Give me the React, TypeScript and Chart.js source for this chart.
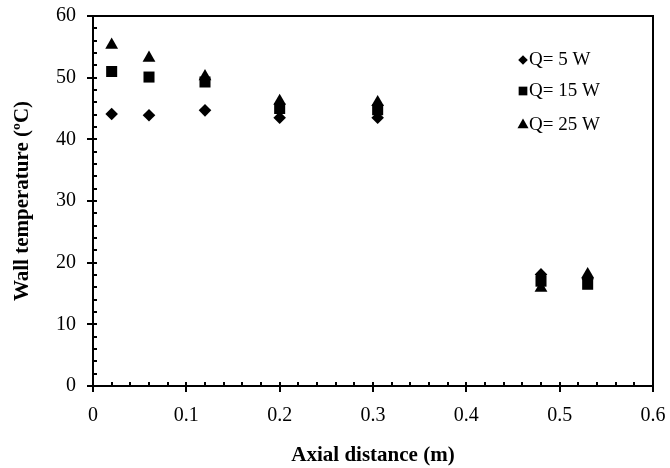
import { useEffect, useRef } from 'react';
import { Chart, registerables } from 'chart.js';

Chart.register(...registerables);

const axialDistance = [0.02, 0.06, 0.12, 0.2, 0.305, 0.48, 0.53];
const q5Values = [44.1, 43.9, 44.7, 43.5, 43.5, 18.1, 17.4];
const q15Values = [51.0, 50.1, 49.3, 45.0, 44.8, 17.0, 16.5];
const q25Values = [55.3, 53.2, 50.2, 46.2, 46.0, 15.9, 18.1];
const seriesLabels = ['Q= 5 W', 'Q= 15 W', 'Q= 25 W'];
const yMajorStep = 10;
const yMinorStep = 2;
const xMajorStep = 0.1;
const xMinorStep = 0.02;

const FONT = '"Liberation Serif", "Times New Roman", serif';

function pathMarker(ctx: CanvasRenderingContext2D, style: string, x: number, y: number, s: number) {
  ctx.beginPath();
  if (style === 'rectRot') {
    ctx.moveTo(x - s, y);
    ctx.lineTo(x, y - s);
    ctx.lineTo(x + s, y);
    ctx.lineTo(x, y + s);
  } else if (style === 'rect') {
    ctx.rect(x - s * 0.75, y - s * 0.75, s * 1.5, s * 1.5);
  } else {
    ctx.moveTo(x, y - s);
    ctx.lineTo(x + s * 0.866, y + s * 0.5);
    ctx.lineTo(x - s * 0.866, y + s * 0.5);
  }
  ctx.closePath();
  ctx.fill();
}

const axesPlugin = {
  id: 'excelAxes',
  afterDraw(chart: any) {
    const { ctx, chartArea } = chart;
    const xs = chart.scales.x;
    const ys = chart.scales.y;
    const { left, right, top, bottom } = chartArea;
    ctx.save();
    ctx.strokeStyle = '#000';
    ctx.lineWidth = 2;
    ctx.strokeRect(left, top, right - left, bottom - top);
    ctx.beginPath();
    const ny = Math.round((ys.max - ys.min) / yMinorStep);
    for (let i = 0; i <= ny; i++) {
      const v = ys.min + i * yMinorStep;
      const py = Math.round(ys.getPixelForValue(v));
      const isMajor = Math.abs(v / yMajorStep - Math.round(v / yMajorStep)) < 1e-6;
      ctx.moveTo(isMajor ? left - 6 : left, py);
      ctx.lineTo(left + 4, py);
    }
    const nx = Math.round((xs.max - xs.min) / xMinorStep);
    for (let i = 0; i <= nx; i++) {
      const v = xs.min + i * xMinorStep;
      const px = Math.round(xs.getPixelForValue(v));
      const isMajor = Math.abs(v / xMajorStep - Math.round(v / xMajorStep)) < 1e-6;
      ctx.moveTo(px, bottom - 4);
      ctx.lineTo(px, isMajor ? bottom + 6 : bottom);
    }
    ctx.stroke();

    // legend
    const styles = ['rectRot', 'rect', 'triangle'];
    const sizes = [4.8, 5.8, 6.4];
    const offsets = [44, 75, 109];
    ctx.fillStyle = '#000';
    ctx.font = `19px ${FONT}`;
    ctx.textBaseline = 'middle';
    ctx.textAlign = 'left';
    chart.data.datasets.forEach((ds: any, i: number) => {
      const ly = top + offsets[i];
      const mx = right - 130;
      pathMarker(ctx, styles[i], mx, ly, sizes[i]);
      ctx.fillText(ds.label, mx + 6, ly);
    });
    ctx.restore();
  },
};

export default function App() {
  const ref = useRef<HTMLCanvasElement>(null);
  useEffect(() => {
    if (!ref.current) return;
    const mk = (data: number[]) => axialDistance.map((x, i) => ({ x, y: data[i] }));
    const chart = new Chart(ref.current, {
      type: 'scatter',
      data: {
        datasets: [
          { label: seriesLabels[0], data: mk(q5Values), pointStyle: 'rectRot', pointRadius: 6.3, backgroundColor: '#000', borderColor: '#000', borderWidth: 0 },
          { label: seriesLabels[1], data: mk(q15Values), pointStyle: 'rect', pointRadius: 7.8, backgroundColor: '#000', borderColor: '#000', borderWidth: 0 },
          { label: seriesLabels[2], data: mk(q25Values), pointStyle: 'triangle', pointRadius: 7.4, backgroundColor: '#000', borderColor: '#000', borderWidth: 0 },
        ],
      },
      options: {
        animation: false,
        responsive: false,
        maintainAspectRatio: false,
        layout: { padding: { top: 16, right: 17, left: 0, bottom: 0 } },
        plugins: { legend: { display: false }, tooltip: { enabled: false } },
        scales: {
          x: {
            type: 'linear',
            min: 0,
            max: 0.6,
            ticks: { stepSize: xMajorStep, padding: 18, color: '#000', font: { family: FONT, size: 20 }, maxRotation: 0 },
            grid: { display: false, drawTicks: false },
            border: { display: false },
            title: { display: true, text: 'Axial distance (m)', color: '#000', font: { family: FONT, size: 21, weight: 'bold' }, padding: { top: 0, bottom: 0 } },
            afterFit: (s: any) => { s.height = 82; s.paddingLeft = 0; s.paddingRight = 0; },
          },
          y: {
            type: 'linear',
            min: 0,
            max: 60,
            ticks: { stepSize: yMajorStep, padding: 17, color: '#000', font: { family: FONT, size: 20 } },
            grid: { display: false, drawTicks: false },
            border: { display: false },
            title: { display: true, text: 'Wall temperature (ºC)', color: '#000', font: { family: FONT, size: 21, weight: 'bold' }, padding: { top: 10, bottom: 0 } },
            afterFit: (s: any) => { s.width = 93; s.paddingTop = 0; s.paddingBottom = 0; },
          },
        },
      },
      plugins: [axesPlugin],
    });
    return () => chart.destroy();
  }, []);
  return (
    <div style={{ position: 'fixed', left: 0, top: 0, width: 670, height: 468, background: '#fff' }}>
      <canvas ref={ref} width={670} height={468} style={{ width: 670, height: 468 }} />
    </div>
  );
}
